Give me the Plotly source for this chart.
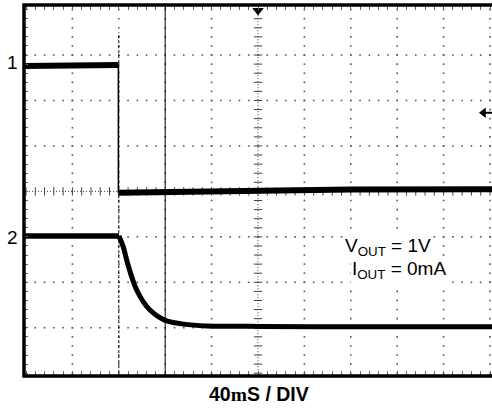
import plotly.graph_objects as go

# ---- captured waveforms (time and level in screen divisions) ----
# Channel 1: enable step
ch1_high_t = [-0.05, 1.0, 1.99]
ch1_high_v = [6.76, 6.77, 6.78]
ch1_low_t = [1.99, 3.0, 5.0, 7.0, 10.05]
ch1_low_v = [3.97, 3.99, 4.02, 4.04, 4.05]

# Channel 2: output discharge
ch2_t = [-0.05, 1.0, 2.004, 2.097, 2.170, 2.278, 2.386, 2.528, 2.672,
         2.851, 3.032, 3.39, 3.894, 5.04, 7.5, 10.05]
ch2_v = [3.02, 3.02, 3.02, 2.78, 2.49, 2.12, 1.83, 1.57, 1.39,
         1.245, 1.15, 1.08, 1.04, 1.03, 1.02, 1.02]
ch2_edge = 2  # index where the discharge starts

# scope markers
trigger_t = 2.0
trigger_top = 7.5
cursor_t = 3.0
trig_level = 5.73
n_xdiv, n_ydiv = 10, 8
minor = 0.2

W, H = 492, 408
ML, MR, MT, MB = 24, 0, 5, 32
PW, PH = W - ML - MR, H - MT - MB


def px_x(px):
    return (px - ML) / PW


def px_y(py):
    return (H - MB - py) / PH


fig = go.Figure()

# dotted graticule
gx, gy = [], []
for i in range(1, n_xdiv + 1):
    if i == n_xdiv // 2:
        continue
    for k in range(int(n_ydiv / minor) + 1):
        gx.append(i)
        gy.append(k * minor)
for j in range(1, n_ydiv):
    if j == n_ydiv // 2:
        continue
    for k in range(int(n_xdiv / minor) + 1):
        gx.append(k * minor)
        gy.append(j)
fig.add_trace(go.Scatter(x=gx, y=gy, mode="markers",
                         marker=dict(symbol="square", size=1.6, color="#555",
                                     line=dict(width=0)),
                         hoverinfo="skip", showlegend=False))

# centre crosshair with minor ticks
cx = n_xdiv / 2
cy = n_ydiv / 2
vy = [k * minor for k in range(int(n_ydiv / minor) + 1)]
hx = [k * minor for k in range(int(n_xdiv / minor) + 1)]
fig.add_trace(go.Scatter(x=[cx] * len(vy), y=vy, mode="lines+markers",
                         line=dict(color="#444", width=1, dash="1px,2px"),
                         marker=dict(symbol="line-ew", size=6,
                                     line=dict(color="#444", width=1)),
                         hoverinfo="skip", showlegend=False))
fig.add_trace(go.Scatter(x=hx, y=[cy] * len(hx), mode="lines+markers",
                         line=dict(color="#444", width=1, dash="1px,2px"),
                         marker=dict(symbol="line-ns", size=6,
                                     line=dict(color="#444", width=1)),
                         hoverinfo="skip", showlegend=False))

# trigger position (dashed) and cursor (solid)
fig.add_shape(type="line", x0=trigger_t, x1=trigger_t, y0=0, y1=trigger_top,
              line=dict(color="black", width=1, dash="3px,2px"))
fig.add_shape(type="line", x0=cursor_t, x1=cursor_t, y0=-0.1, y1=8.2,
              line=dict(color="black", width=1))

# waveforms
fig.add_trace(go.Scatter(x=ch1_high_t, y=ch1_high_v, mode="lines",
                         line=dict(color="black", width=6),
                         hoverinfo="skip", showlegend=False))
fig.add_trace(go.Scatter(x=[ch1_high_t[-1], ch1_low_t[0]],
                         y=[ch1_high_v[-1], ch1_low_v[0]], mode="lines",
                         line=dict(color="black", width=1.5),
                         hoverinfo="skip", showlegend=False))
fig.add_trace(go.Scatter(x=ch1_low_t, y=ch1_low_v, mode="lines",
                         line=dict(color="black", width=6),
                         hoverinfo="skip", showlegend=False))
fig.add_trace(go.Scatter(x=ch2_t[:ch2_edge + 1], y=ch2_v[:ch2_edge + 1],
                         mode="lines", line=dict(color="black", width=5.5),
                         hoverinfo="skip", showlegend=False))
fig.add_trace(go.Scatter(x=ch2_t[ch2_edge:], y=ch2_v[ch2_edge:],
                         mode="lines",
                         line=dict(color="black", width=5, shape="spline",
                                   smoothing=0.5),
                         hoverinfo="skip", showlegend=False))

# trigger markers: time (top) and level (right edge)
fig.add_trace(go.Scatter(x=[cx], y=[7.98], mode="markers",
                         marker=dict(symbol="triangle-down", size=10,
                                     color="black"),
                         cliponaxis=False, hoverinfo="skip", showlegend=False))
fig.add_trace(go.Scatter(x=[9.86, 10.05], y=[trig_level, trig_level],
                         mode="lines", line=dict(color="black", width=2),
                         cliponaxis=False, hoverinfo="skip", showlegend=False))
fig.add_trace(go.Scatter(x=[9.86], y=[trig_level], mode="markers",
                         marker=dict(symbol="triangle-left", size=9,
                                     color="black"),
                         cliponaxis=False, hoverinfo="skip", showlegend=False))

# screen frame
fig.add_shape(type="rect", xref="paper", yref="paper",
              x0=0, x1=1.05, y0=0, y1=1,
              line=dict(color="black", width=3.5), layer="above")

font = "Liberation Sans, Arial, sans-serif"
ann = [
    dict(x=px_x(12.5), y=px_y(62), text="1", xanchor="center",
         yanchor="middle", font=dict(size=19)),
    dict(x=px_x(12.5), y=px_y(238), text="2", xanchor="center",
         yanchor="middle", font=dict(size=19)),
    dict(x=px_x(343), y=px_y(247), text="V<sub>OUT</sub> = 1V",
         xanchor="left", yanchor="middle", font=dict(size=19),
         bgcolor="white", borderpad=1),
    dict(x=px_x(350), y=px_y(269.5), text="I<sub>OUT</sub> = 0mA",
         xanchor="left", yanchor="middle", font=dict(size=19),
         bgcolor="white", borderpad=1),
    dict(x=px_x(258.5), y=px_y(394),
         text="<b>40<span style='font-family:Liberation Serif'>m</span>S / DIV</b>",
         xanchor="center", yanchor="middle", font=dict(size=19.5)),
]
for a in ann:
    a.update(xref="paper", yref="paper", showarrow=False)
    a["font"].update(family=font, color="black")
fig.update_layout(annotations=ann)

x0 = (ML - 26.0) / 46.4
x1 = (W - MR - 26.0) / 46.4
y0 = (373.2 - (H - MB)) / 45.45
y1 = (373.2 - MT) / 45.45

fig.update_layout(
    width=W, height=H,
    margin=dict(l=ML, r=MR, t=MT, b=MB, pad=0),
    paper_bgcolor="white", plot_bgcolor="white",
    xaxis=dict(range=[x0, x1], showgrid=False, zeroline=False,
               showticklabels=False, ticks="inside", tickmode="linear",
               tick0=0, dtick=minor, ticklen=5, tickcolor="#666",
               tickwidth=1, mirror="ticks", showline=False, fixedrange=True),
    yaxis=dict(range=[y0, y1], showgrid=False, zeroline=False,
               showticklabels=False, ticks="inside", tickmode="linear",
               tick0=0, dtick=minor, ticklen=4, tickcolor="#666",
               tickwidth=1, showline=False, fixedrange=True),
    showlegend=False,
)

fig.write_html("out.html")
